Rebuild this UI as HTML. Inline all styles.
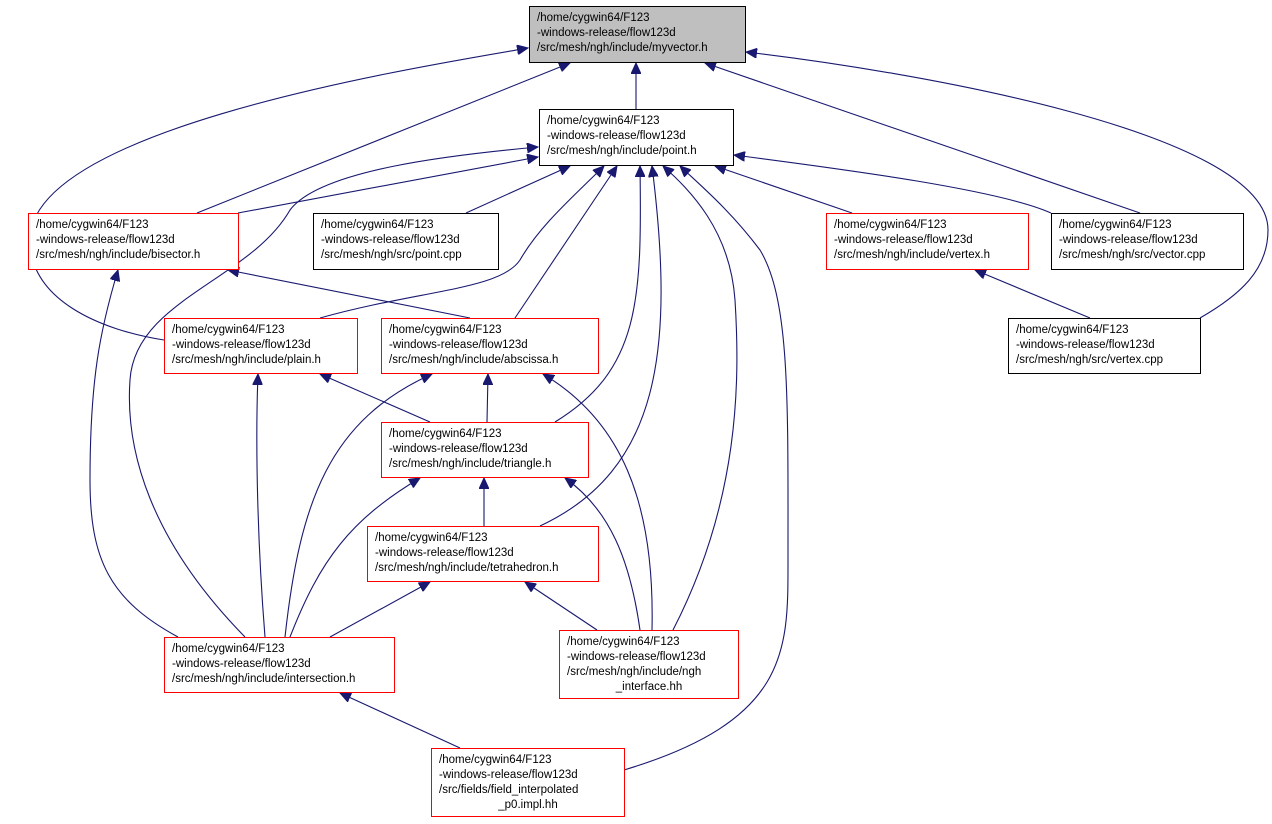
<!DOCTYPE html>
<html><head><meta charset="utf-8"><style>
body{margin:0;background:#fff;width:1272px;height:824px;overflow:hidden;}
svg{display:block}
text{font-family:"Liberation Sans",sans-serif;font-size:11.5px;fill:#000}
</style></head><body>
<svg width="1272" height="824" viewBox="0 0 1272 824">
<defs><marker id="a" markerWidth="12" markerHeight="10" refX="11" refY="5" orient="auto" markerUnits="userSpaceOnUse"><path d="M0,0 L11,5 L0,10 Z" fill="#191970" stroke="#191970"/></marker></defs>
<g fill="none" stroke="#191970" stroke-width="1.1" marker-end="url(#a)">
<path d="M636,109 L636,63"/>
<path d="M197,213 L570,63"/>
<path d="M1140,213 L705,63"/>
<path d="M164,340 C100,330 30,300 30,240 C30,130 400,70 528,48"/>
<path d="M1200,318 C1240,295 1268,270 1268,230 C1268,130 900,70 746,52"/>
<path d="M238,213 L538,157"/>
<path d="M466,213 L570,166"/>
<path d="M852,213 L715,166"/>
<path d="M1051,213 C1000,190 850,170 734,155"/>
<path d="M320,318 C420,290 500,290 520,260 C540,225 575,195 604,166"/>
<path d="M515,318 L617,166"/>
<path d="M555,422 C640,370 642,300 640,166"/>
<path d="M540,526 C660,470 675,350 652,166"/>
<path d="M673,630 C740,500 740,380 735,300 C730,230 690,190 663,166"/>
<path d="M624,770 C790,720 788,650 788,560 C788,400 790,300 760,250 C730,210 700,185 680,166"/>
<path d="M245,637 C150,540 125,450 130,380 C135,300 250,280 290,210 C320,170 450,155 538,147"/>
<path d="M178,637 C110,600 90,560 90,480 C90,380 100,330 118,270"/>
<path d="M470,318 L228,270"/>
<path d="M1090,318 L975,270"/>
<path d="M430,422 L320,374"/>
<path d="M487,422 L488,374"/>
<path d="M265,637 C258,550 255,450 258,374"/>
<path d="M285,637 C300,500 330,420 432,374"/>
<path d="M652,630 C655,500 620,420 543,374"/>
<path d="M484,526 L484,478"/>
<path d="M290,637 C320,560 350,520 420,478"/>
<path d="M640,630 C630,560 610,510 565,478"/>
<path d="M330,637 L430,582"/>
<path d="M597,630 L525,582"/>
<path d="M460,748 L340,693"/>
</g>
<g stroke-width="1">
<rect x="529.5" y="6.5" width="216" height="56" fill="#bfbfbf" stroke="#000"/>
<rect x="539.5" y="109.5" width="194" height="56" fill="#fff" stroke="#000"/>
<rect x="28.5" y="213.5" width="210" height="56" fill="#fff" stroke="#f00"/>
<rect x="313.5" y="213.5" width="185" height="56" fill="#fff" stroke="#000"/>
<rect x="826.5" y="213.5" width="202" height="56" fill="#fff" stroke="#f00"/>
<rect x="1051.5" y="213.5" width="192" height="56" fill="#fff" stroke="#000"/>
<rect x="1008.5" y="318.5" width="192" height="55" fill="#fff" stroke="#000"/>
<rect x="164.5" y="318.5" width="193" height="55" fill="#fff" stroke="#f00"/>
<rect x="381.5" y="318.5" width="217" height="55" fill="#fff" stroke="#f00"/>
<rect x="381.5" y="422.5" width="207" height="55" fill="#fff" stroke="#f00"/>
<rect x="367.5" y="526.5" width="231" height="55" fill="#fff" stroke="#f00"/>
<rect x="164.5" y="637.5" width="230" height="55" fill="#fff" stroke="#f00"/>
<rect x="559.5" y="630.5" width="179" height="68" fill="#fff" stroke="#f00"/>
<rect x="431.5" y="748.5" width="193" height="68" fill="#fff" stroke="#f00"/>
</g>
<text x="537" y="21">/home/cygwin64/F123</text><text x="537" y="36">-windows-release/flow123d</text><text x="537" y="51">/src/mesh/ngh/include/myvector.h</text>
<text x="547" y="124">/home/cygwin64/F123</text><text x="547" y="139">-windows-release/flow123d</text><text x="547" y="154">/src/mesh/ngh/include/point.h</text>
<text x="36" y="228">/home/cygwin64/F123</text><text x="36" y="243">-windows-release/flow123d</text><text x="36" y="258">/src/mesh/ngh/include/bisector.h</text>
<text x="321" y="228">/home/cygwin64/F123</text><text x="321" y="243">-windows-release/flow123d</text><text x="321" y="258">/src/mesh/ngh/src/point.cpp</text>
<text x="834" y="228">/home/cygwin64/F123</text><text x="834" y="243">-windows-release/flow123d</text><text x="834" y="258">/src/mesh/ngh/include/vertex.h</text>
<text x="1059" y="228">/home/cygwin64/F123</text><text x="1059" y="243">-windows-release/flow123d</text><text x="1059" y="258">/src/mesh/ngh/src/vector.cpp</text>
<text x="1016" y="333">/home/cygwin64/F123</text><text x="1016" y="348">-windows-release/flow123d</text><text x="1016" y="363">/src/mesh/ngh/src/vertex.cpp</text>
<text x="172" y="333">/home/cygwin64/F123</text><text x="172" y="348">-windows-release/flow123d</text><text x="172" y="363">/src/mesh/ngh/include/plain.h</text>
<text x="389" y="333">/home/cygwin64/F123</text><text x="389" y="348">-windows-release/flow123d</text><text x="389" y="363">/src/mesh/ngh/include/abscissa.h</text>
<text x="389" y="437">/home/cygwin64/F123</text><text x="389" y="452">-windows-release/flow123d</text><text x="389" y="467">/src/mesh/ngh/include/triangle.h</text>
<text x="375" y="541">/home/cygwin64/F123</text><text x="375" y="556">-windows-release/flow123d</text><text x="375" y="571">/src/mesh/ngh/include/tetrahedron.h</text>
<text x="172" y="652">/home/cygwin64/F123</text><text x="172" y="667">-windows-release/flow123d</text><text x="172" y="682">/src/mesh/ngh/include/intersection.h</text>
<text x="567" y="645">/home/cygwin64/F123</text><text x="567" y="660">-windows-release/flow123d</text><text x="567" y="675">/src/mesh/ngh/include/ngh</text><text x="649" y="690" text-anchor="middle">_interface.hh</text>
<text x="439" y="763">/home/cygwin64/F123</text><text x="439" y="778">-windows-release/flow123d</text><text x="439" y="793">/src/fields/field_interpolated</text><text x="528" y="808" text-anchor="middle">_p0.impl.hh</text>
</svg>
</body></html>
